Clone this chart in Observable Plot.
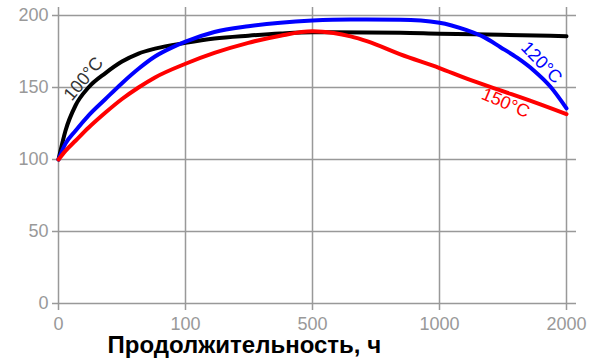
<!DOCTYPE html>
<html>
<head>
<meta charset="utf-8">
<script src="https://cdn.jsdelivr.net/npm/d3@7"></script>
<script src="https://cdn.jsdelivr.net/npm/@observablehq/plot@0.6"></script>
<style>
  body { margin: 0; background: #fff; }
  #chart { width: 603px; height: 363px; }
  svg { font-family: Arial, "Liberation Sans", sans-serif; }
</style>
</head>
<body>
<div id="chart"></div>
<script>
// Tick values (hours) and y ticks
const xTicks = [0, 100, 500, 1000, 2000];
const yTicks = [0, 50, 100, 150, 200];
const xLabel = "Продолжительность, ч";

// Series: hours and relative values (%)
const hours100 = [0, 5.5, 13.4, 23.6, 37, 50, 63, 76, 100, 191, 298, 399, 500, 846, 1000, 1480, 2000];
const vals100  = [100, 120, 137.5, 150, 160, 168, 173.6, 177, 181, 184, 186, 187.5, 188.4, 188, 187.3, 186.6, 185.6];

const hours120 = [0, 5.5, 13.4, 23.6, 37, 50, 63, 76, 90, 100, 191, 298, 399, 500, 650, 846, 1000, 1220, 1350, 1480, 1614, 1740, 1874, 2000];
const vals120  = [100, 111, 120, 130.5, 142, 153, 163, 171.5, 178, 181.8, 188.5, 192.5, 195, 196.5, 197.2, 197, 195, 189.6, 185, 178, 170.5, 162, 150.5, 135.5];

const hours150 = [0, 5.5, 13.4, 23.6, 37, 50, 63, 76, 100, 191, 298, 399, 500, 583, 650, 717, 846, 1000, 1220, 1480, 1740, 2000];
const vals150  = [100, 106, 113, 122, 132.6, 142, 150, 157, 166.5, 174, 181, 186, 189, 187.8, 185.5, 182, 173, 163.5, 156, 148, 140, 131.5];

const seriesNames  = ["100°C", "120°C", "150°C"];
const seriesColors = ["#000000", "#0000ff", "#ff0000"];
// label anchor points (hours, value) and rotation
const labelHours = [19.7, 1803, 1520];
const labelVals  = [156, 167.4, 139.3];
const labelRot   = [-50, 46, 23];

const W = 603, H = 363, ML = 58, MR = 37, MT = 15, MB = 60;

// piecewise hours -> equally spaced tick index
const toIdx = d3.scaleLinear().domain(xTicks).range(xTicks.map((_, i) => i));
const idxTicks = xTicks.map((_, i) => i);

const lines = [
  hours100.map((h, i) => ({x: toIdx(h), v: vals100[i]})),
  hours120.map((h, i) => ({x: toIdx(h), v: vals120[i]})),
  hours150.map((h, i) => ({x: toIdx(h), v: vals150[i]}))
];
const labels = seriesNames.map((n, i) => ({n, x: toIdx(labelHours[i]), v: labelVals[i], i}));

const gridColor = "#999";

const chart = Plot.plot({
  width: W, height: H,
  marginLeft: ML, marginRight: MR, marginTop: MT, marginBottom: MB,
  style: {fontFamily: "Arial, 'Liberation Sans', sans-serif", background: "white", overflow: "visible"},
  x: {type: "linear", domain: [0, xTicks.length - 1], label: null},
  y: {domain: [0, 200], label: null},
  marks: [
    Plot.ruleY(yTicks, {stroke: gridColor, strokeWidth: 1.5, insetLeft: -6, insetRight: -10}),
    Plot.ruleX(idxTicks, {stroke: gridColor, strokeWidth: 1.5, insetTop: -8, insetBottom: -7}),
    Plot.axisY({ticks: yTicks, tickSize: 0, tickPadding: 10, fontSize: 18, color: "#999", label: null}),
    Plot.axisX({ticks: idxTicks, tickFormat: i => String(xTicks[i]), tickSize: 0, tickPadding: 14, fontSize: 18, color: "#999", label: null}),
    ...lines.map((d, i) => Plot.line(d, {x: "x", y: "v", stroke: seriesColors[i], strokeWidth: 4, curve: "monotone-x"})),
    ...labels.map(d => Plot.text([d], {x: "x", y: "v", text: "n", rotate: labelRot[d.i], fill: d.i === 0 ? "#333" : seriesColors[d.i], fontSize: 18})),
    Plot.text([xLabel], {frameAnchor: "bottom-left", dx: 49, dy: 49, fontSize: 24, fontWeight: "bold", fill: "#000", textAnchor: "start"})
  ]
});
document.getElementById("chart").append(chart);
</script>
</body>
</html>
